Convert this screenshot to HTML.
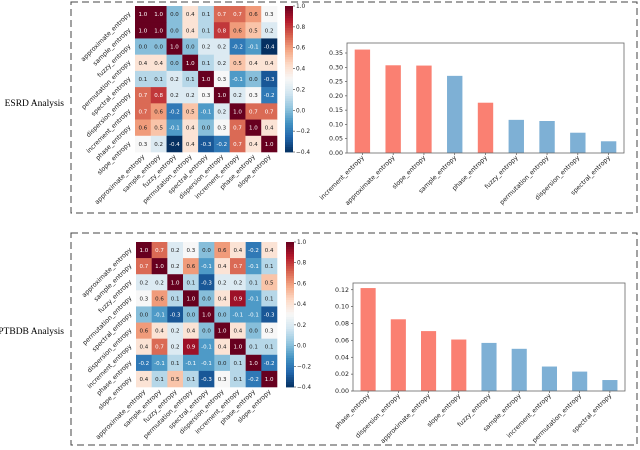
<!DOCTYPE html>
<html><head><meta charset="utf-8"><style>
html,body{margin:0;padding:0;background:#fff;width:640px;height:450px;overflow:hidden}
svg{display:block;font-family:"DejaVu Sans","Liberation Sans",sans-serif}
</style></head><body>
<svg id="fig" width="640" height="450" viewBox="0 0 640 450">
<rect x="71" y="2" width="566" height="211" fill="none" stroke="#444" stroke-width="1" stroke-dasharray="7,4"/>
<rect x="71" y="233" width="566" height="212" fill="none" stroke="#444" stroke-width="1" stroke-dasharray="7,4"/>
<text x="64" y="106" text-anchor="end" font-family="Liberation Serif,serif" font-size="9.5" fill="#000">ESRD Analysis</text>
<text x="64" y="334" text-anchor="end" font-family="Liberation Serif,serif" font-size="9.5" fill="#000">PTBDB Analysis</text>
</svg>
<script>
const featNames = ["approximate_entropy","sample_entropy","fuzzy_entropy","permutation_entropy","spectral_entropy","dispersion_entropy","increment_entropy","phase_entropy","slope_entropy"];
const esrdCorr = [
[1.0,1.0,0.0,0.4,0.1,0.7,0.7,0.6,0.3],
[1.0,1.0,0.0,0.4,0.1,0.8,0.6,0.5,0.2],
[0.0,0.0,1.0,-0.0,0.2,0.2,-0.2,-0.1,-0.4],
[0.4,0.4,-0.0,1.0,0.1,0.2,0.5,0.4,0.4],
[0.1,0.1,0.2,0.1,1.0,0.3,-0.1,0.0,-0.3],
[0.7,0.8,0.2,0.2,0.3,1.0,0.2,0.3,-0.2],
[0.7,0.6,-0.2,0.5,-0.1,0.2,1.0,0.7,0.7],
[0.6,0.5,-0.1,0.4,0.0,0.3,0.7,1.0,0.4],
[0.3,0.2,-0.4,0.4,-0.3,-0.2,0.7,0.4,1.0]];
const ptbCorr = [
[1.0,0.7,0.2,0.3,0.0,0.6,0.4,-0.2,0.4],
[0.7,1.0,0.2,0.6,-0.1,0.4,0.7,-0.1,0.1],
[0.2,0.2,1.0,0.1,-0.3,0.2,0.2,0.1,0.5],
[0.3,0.6,0.1,1.0,0.0,0.4,0.9,-0.1,0.1],
[0.0,-0.1,-0.3,0.0,1.0,-0.0,-0.1,-0.1,-0.3],
[0.6,0.4,0.2,0.4,-0.0,1.0,0.4,0.0,0.3],
[0.4,0.7,0.2,0.9,-0.1,0.4,1.0,0.1,0.1],
[-0.2,-0.1,0.1,-0.1,-0.1,0.0,0.1,1.0,-0.2],
[0.4,0.1,0.5,0.1,-0.3,0.3,0.1,-0.2,1.0]];
const cbarTicks = [1.0,0.8,0.6,0.4,0.2,0.0,-0.2,-0.4];
const esrdBarCats = ["increment_entropy","approximate_entropy","slope_entropy","sample_entropy","phase_entropy","fuzzy_entropy","permutation_entropy","dispersion_entropy","spectral_entropy"];
const esrdBarVals = [0.362,0.307,0.306,0.270,0.176,0.116,0.112,0.071,0.041];
const esrdBarRed = [1,1,1,0,1,0,0,0,0];
const esrdTicks = [0,0.05,0.10,0.15,0.20,0.25,0.30,0.35];
const ptbBarCats = ["phase_entropy","dispersion_entropy","approximate_entropy","slope_entropy","fuzzy_entropy","sample_entropy","increment_entropy","permutation_entropy","spectral_entropy"];
const ptbBarVals = [0.122,0.085,0.071,0.061,0.057,0.050,0.029,0.023,0.013];
const ptbBarRed = [1,1,1,1,0,0,0,0,0];
const ptbTicks = [0,0.02,0.04,0.06,0.08,0.10,0.12];

const NS="http://www.w3.org/2000/svg";
const svg=document.getElementById('fig');
function mk(tag,attrs,parent){const e=document.createElementNS(NS,tag);for(const k in attrs)e.setAttribute(k,attrs[k]);(parent||svg).appendChild(e);return e;}
const stops=["#053061","#2166ac","#4393c3","#92c5de","#d1e5f0","#f7f7f7","#fddbc7","#f4a582","#d6604d","#b2182b","#67001f"];
function hex(h){return [1,3,5].map(i=>parseInt(h.substr(i,2),16));}
function cmap(v){let t=(v+0.4)/1.4;t=Math.max(0,Math.min(1,t));const p=t*10,i=Math.min(9,Math.floor(p)),f=p-i;const a=hex(stops[i]),b=hex(stops[i+1]);return 'rgb('+a.map((x,k)=>Math.round(x+(b[k]-x)*f)).join(',')+')';}
function fmt(v){return v.toFixed(1);}

function heatmap(prefix,M,x0,y0,x1,y1,cbx){
  const n=9,cw=(x1-x0)/n,ch=(y1-y0)/n;
  const g=mk('g',{});
  
  
  for(let r=0;r<n;r++)for(let c=0;c<n;c++){
    const v=M[r][c];
    const rc=mk('rect',{x:x0+c*cw,y:y0+r*ch,width:cw+0.3,height:ch+0.3,fill:cmap(v)},g);
    
    
    const t=(v+0.4)/1.4;
    const tx=mk('text',{x:x0+c*cw+cw/2,y:y0+r*ch+ch/2+2,'text-anchor':'middle','font-size':5.5,fill:(t>0.75||t<0.22)?'#fff':'#222'},g);
    tx.textContent=fmt(v);
    
    
  }
  for(let i=0;i<n;i++){
    const ry=y0+i*ch+ch/2, lx=x0-4;
    const t=mk('text',{x:lx,y:ry,'text-anchor':'end','font-size':6.3,fill:'#222',transform:'rotate(-45 '+lx+' '+ry+')'},g);
    t.textContent=featNames[i];
    
    
    const cx=x0+i*cw+cw/2+2, cy=y1+5;
    const t2=mk('text',{x:cx,y:cy,'text-anchor':'end','font-size':6.3,fill:'#222',transform:'rotate(-45 '+cx+' '+cy+')'},g);
    t2.textContent=featNames[i];
    
    
  }
  const steps=60,h=(y1-y0)/steps;
  for(let s=0;s<steps;s++){
    const v=1.0-(s+0.5)/steps*1.4;
    const r=mk('rect',{x:cbx,y:y0+s*h,width:8,height:h+0.4,fill:cmap(v)},g);
    
    
  }
  cbarTicks.forEach(v=>{
    const y=y0+(1.0-v)/1.4*(y1-y0);
    mk('line',{x1:cbx+8,x2:cbx+10,y1:y,y2:y,stroke:'#333','stroke-width':0.6},g);
    const t=mk('text',{x:cbx+11,y:y+2,'font-size':5.8,fill:'#222'},g);
    t.textContent=(v<0?'\u2212'+Math.abs(v).toFixed(1):v.toFixed(1));
    
    
  });
}
heatmap('esrd',esrdCorr,135,6,277,152,285);
heatmap('ptbdb',ptbCorr,136,242,277,387,286);

function barchart(prefix,cats,vals,red,ticks,L,R,T,B,ymax,decs){
  const g=mk('g',{});
  
  
  const ys=v=>B-v/ymax*(B-T);
  const band=(R-L)/cats.length;
  cats.forEach((c,i)=>{
    const cx=L+band*(i+0.5),w=band*0.5;
    const b=mk('rect',{x:cx-w/2,y:ys(vals[i]),width:w,height:B-ys(vals[i]),fill:red[i]?'#fa8072':'#7eb0d5'},g);
    
    
    mk('line',{x1:cx,x2:cx,y1:B,y2:B+2,stroke:'#333','stroke-width':0.6},g);
    const tx=cx+2,ty=B+5;
    const t=mk('text',{x:tx,y:ty,'text-anchor':'end','font-size':6.3,fill:'#222',transform:'rotate(-45 '+tx+' '+ty+')'},g);
    t.textContent=c;
    
    
  });
  ticks.forEach(v=>{
    const y=ys(v);
    mk('line',{x1:L-2,x2:L,y1:y,y2:y,stroke:'#333','stroke-width':0.6},g);
    const t=mk('text',{x:L-4,y:y+2,'text-anchor':'end','font-size':6.3,fill:'#222'},g);
    t.textContent=v.toFixed(decs);
    
    
  });
  const f=mk('rect',{x:L,y:T,width:R-L,height:B-T,fill:'none',stroke:'#666','stroke-width':0.8},g);
  
  
}
barchart('esrd',esrdBarCats,esrdBarVals,esrdBarRed,esrdTicks,347,624,43,153,0.385,2);
barchart('ptbdb',ptbBarCats,ptbBarVals,ptbBarRed,ptbTicks,353,625,283,391,0.128,2);
</script>
</body></html>
